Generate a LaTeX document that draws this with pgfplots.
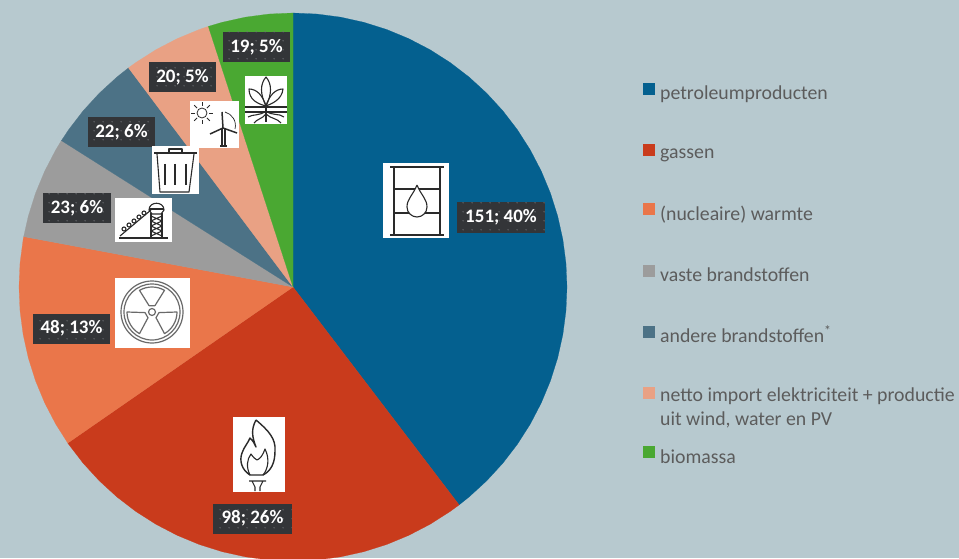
\documentclass[border=0pt]{standalone}
\usepackage{fontspec}
\setmainfont{Carlito}
\usepackage{pgfplots}
\pgfplotsset{compat=1.18}
\usetikzlibrary{patterns}

\definecolor{bg}{HTML}{B7C9CF}
\definecolor{cpetrol}{HTML}{04608F}
\definecolor{cgas}{HTML}{C93B1C}
\definecolor{cwarm}{HTML}{EA764A}
\definecolor{cvast}{HTML}{9C9C9C}
\definecolor{cander}{HTML}{4C7286}
\definecolor{cnetto}{HTML}{E9A184}
\definecolor{cbio}{HTML}{4AA832}
\definecolor{ctext}{HTML}{5C5C5C}
\definecolor{cbox}{HTML}{333538}
\definecolor{cdot}{HTML}{6E7074}
\definecolor{cicon}{HTML}{2A2A2A}

\pgfdeclarepatternformonly{boxdots}{\pgfpointorigin}{\pgfpoint{9pt}{9pt}}{\pgfpoint{9pt}{9pt}}{%
  \pgfpathcircle{\pgfpoint{4.5pt}{4.5pt}}{.8pt}\pgfusepath{fill}}

\tikzset{
  lab/.style={fill=cbox, postaction={pattern=boxdots, pattern color=cdot},
    text=white, inner sep=0pt, minimum height=30pt,
    font=\fontsize{19}{23}\selectfont\bfseries},
  icon/.style={x=1pt, y=-1pt, shift={(#1)}},
}
\newcommand{\ent}[1]{\rule[-6pt]{0pt}{16pt}#1}

\begin{document}
\begin{tikzpicture}
\fill[bg] (0,0) rectangle (959pt,558pt);
\begin{axis}[
  scale only axis, width=959pt, height=558pt,
  xmin=-293, xmax=666, ymin=-271, ymax=287,
  hide axis, data cs=polar,
  legend image code/.code={\fill[#1] (0pt,-0.5pt) rectangle (11pt,10.5pt);},
  legend cell align=left,
  legend style={at={(axis cs:350,204.5)}, anchor=north west, draw=none, fill=none,
    inner sep=0pt, outer sep=0pt, row sep=43pt, column sep=6pt,
    nodes={inner sep=0pt, text=ctext},
    font=\fontsize{19.8}{24}\selectfont},
]
% values 151, 98, 48, 23, 22, 20, 19 of 381, as angle and radius
\addplot[fill=cpetrol, draw=cpetrol, line width=.2pt] coordinates {(0,0)
 (90,274)(85,274)(80,274)(75,274)(70,274)(65,274)(60,274)(55,274)(50,274)(45,274)
 (40,274)(35,274)(30,274)(25,274)(20,274)(15,274)(10,274)(5,274)(0,274)(-5,274)
 (-10,274)(-15,274)(-20,274)(-25,274)(-30,274)(-35,274)(-40,274)(-45,274)(-50,274)(-52.68,274)} -- cycle;
\addlegendentry{\ent{petroleumproducten}}
\addplot[fill=cgas, draw=cgas, line width=.2pt] coordinates {(0,0)
 (-52.68,274)(-55,274)(-60,274)(-65,274)(-70,274)(-75,274)(-80,274)(-85,274)(-90,274)(-95,274)
 (-100,274)(-105,274)(-110,274)(-115,274)(-120,274)(-125,274)(-130,274)(-135,274)(-140,274)(-145,274)(-145.28,274)} -- cycle;
\addlegendentry{\ent{gassen}}
\addplot[fill=cwarm, draw=cwarm, line width=.2pt] coordinates {(0,0)
 (-145.28,274)(-150,274)(-155,274)(-160,274)(-165,274)(-170,274)(-175,274)(-180,274)(-185,274)(-190,274)(-190.6,274)} -- cycle;
\addlegendentry{\ent{(nucleaire) warmte}}
\addplot[fill=cvast, draw=cvast, line width=.2pt] coordinates {(0,0)
 (-190.6,274)(-195,274)(-200,274)(-205,274)(-210,274)(-212.3,274)} -- cycle;
\addlegendentry{\ent{vaste brandstoffen}}
\addplot[fill=cander, draw=cander, line width=.2pt] coordinates {(0,0)
 (-212.3,274)(-215,274)(-220,274)(-225,274)(-230,274)(-233.1,274)} -- cycle;
\addlegendentry{\ent{andere brandstoffen\smash{\textsuperscript{*}}}}
\addplot[fill=cnetto, draw=cnetto, line width=.2pt] coordinates {(0,0)
 (-233.1,274)(-235,274)(-240,274)(-245,274)(-250,274)(-252,274)} -- cycle;
\addlegendentry{\ent{\smash{\begin{tabular}[t]{@{}l@{}}netto import elektriciteit + productie\\uit wind, water en PV\end{tabular}}}}
\addplot[fill=cbio, draw=cbio, line width=.2pt] coordinates {(0,0)
 (-252,274)(-255,274)(-260,274)(-265,274)(-270,274)} -- cycle;
\addlegendentry{\ent{biomassa}}

\node[lab, minimum width=88pt] at (axis cs:208,69.5) {151; 40\%};
\node[lab, minimum width=79pt] at (axis cs:-40.5,-231.5) {98; 26\%};
\node[lab, minimum width=77pt] at (axis cs:-221.5,-41.5) {48; 13\%};
\node[lab, minimum width=68pt] at (axis cs:-216,78.5) {23; 6\%};
\node[lab, minimum width=67pt] at (axis cs:-171.5,154.5) {22; 6\%};
\node[lab, minimum width=67pt] at (axis cs:-110.5,209.5) {20; 5\%};
\node[lab, minimum width=67pt] at (axis cs:-36.5,240) {19; 5\%};
\end{axis}

% icons, in reference pixels from the top left of each white box
\begin{scope}[every path/.append style={draw=cicon, line width=1.1pt, line join=round}]
% barrel
\begin{scope}[icon={383pt,395pt}]
\fill[white,draw=none] (0,0) rectangle (66,75);
\draw[line width=1.5pt] (7,4) -- (61,4) (7,72) -- (61,72) (11,4) -- (11,72) (57,4) -- (57,72);
\draw (11,26) -- (57,26) (11,50) -- (57,50);
\draw[fill=white] (34,22) .. controls (30,32) and (24,36) .. (24,44) .. controls (24,50) and (29,54) .. (34,54)
  .. controls (39,54) and (44,50) .. (44,44) .. controls (44,36) and (38,32) .. (34,22);
\end{scope}
% flame
\begin{scope}[icon={233pt,141pt}]
\fill[white,draw=none] (0,0) rectangle (52,75);
\draw[line width=1.4pt] (23,3) .. controls (36,14) and (43,22) .. (42,34) .. controls (42,46) and (38,54) .. (30,58)
  -- (17,58) .. controls (9,53) and (6,44) .. (9,36) .. controls (11,30) and (15,26) .. (17,21)
  .. controls (20,24) and (22,27) .. (23,30) .. controls (19,20) and (18,12) .. (23,3);
\draw (17,58) .. controls (13,50) and (14,42) .. (18,37) .. controls (20,40) and (22,42) .. (24,43)
  .. controls (27,42) and (30,38) .. (32,32) .. controls (37,42) and (35,52) .. (30,58);
\draw (16,64) -- (33,64) (19,64) -- (22,70) -- (22,74) (30,64) -- (27,70) -- (27,74);
\end{scope}
% radiation
\begin{scope}[icon={115pt,280pt}]
\fill[white,draw=none] (0,0) rectangle (75,70);
\draw[draw=cicon!70, line width=1.2pt] (37,34) circle[radius=31] (37,34) circle[radius=28] (37,34) circle[radius=3.5];
\foreach \a in {270,30,150} {
  \draw[draw=cicon!70, line width=1.2pt, shift={(37,34)}] (\a-30:25) arc[start angle=\a-30, end angle=\a+30, radius=25] -- (\a+25:7) -- (\a-25:7) -- cycle;
}
\end{scope}
% coal tower
\begin{scope}[icon={115pt,360pt}]
\fill[white,draw=none] (0,0) rectangle (57,44);
\draw (4,40) -- (53,40);
\draw[line width=1.4pt] (36,15) -- (36,40) (47,15) -- (47,40);
\draw (36,18) -- (47,23) -- (36,28) -- (47,33) -- (36,38) (47,18) -- (36,23) -- (47,28) -- (36,33) -- (47,38);
\draw[fill=white] (34,12) .. controls (34,3) and (49,3) .. (49,12) -- (46,16) -- (37,16) -- cycle;
\draw (34,11) -- (49,11);
\draw (5,38) -- (36,12);
\foreach \p in {(9,31),(14,27),(19,23),(24,19),(29,15)} { \draw \p circle[radius=2]; }
\end{scope}
% bin
\begin{scope}[icon={152pt,412pt}]
\fill[white,draw=none] (0,0) rectangle (47,48);
\draw (2,7) -- (45,7) (17,7) -- (17,3) -- (30,3) -- (30,7);
\draw (5,8) -- (8,46) -- (37,46) -- (42,8);
\draw (13,18) -- (13,39) (23,18) -- (23,39) (34,18) -- (34,39);
\end{scope}
% sun and turbine
\begin{scope}[icon={190pt,457pt}]
\fill[white,draw=none] (0,0) rectangle (49,47);
\draw[line width=.8pt, shift={(12,12)}] (0,0) circle[radius=5];
\foreach \a in {0,45,...,315} { \draw[line width=.8pt, shift={(12,12)}] (\a:7) -- (\a:11); }
\draw (32,27) -- (32,45) (35,27) -- (35,45) (30,45) -- (37,45);
\draw[line width=1.5pt] (33,27) -- (32,11) (33,27) -- (20,33) (33,27) -- (47,32);
\draw[line width=.7pt] (35,11) .. controls (42,13) and (47,20) .. (45,28);
\end{scope}
% plant
\begin{scope}[icon={245pt,482pt}]
\fill[white,draw=none] (0,0) rectangle (42,48);
\draw (0,31) -- (42,31) (0,36) -- (42,36);
\draw[line width=1.4pt] (21,30) -- (21,46);
\draw (21,30) .. controls (15,18) and (15,8) .. (21,1) .. controls (27,8) and (27,18) .. (21,30);
\draw (21,30) .. controls (13,28) and (4,24) .. (4,13) .. controls (12,13) and (18,20) .. (21,30);
\draw (21,30) .. controls (26,28) and (37,24) .. (38,13) .. controls (30,13) and (24,20) .. (21,30);
\draw (21,35) .. controls (15,40) and (8,38) .. (3,41) (21,38) .. controls (17,43) and (12,43) .. (9,47);
\draw (21,35) .. controls (27,40) and (34,37) .. (39,41) (21,38) .. controls (26,43) and (32,42) .. (36,47);
\end{scope}
\end{scope}
\end{tikzpicture}
\end{document}
